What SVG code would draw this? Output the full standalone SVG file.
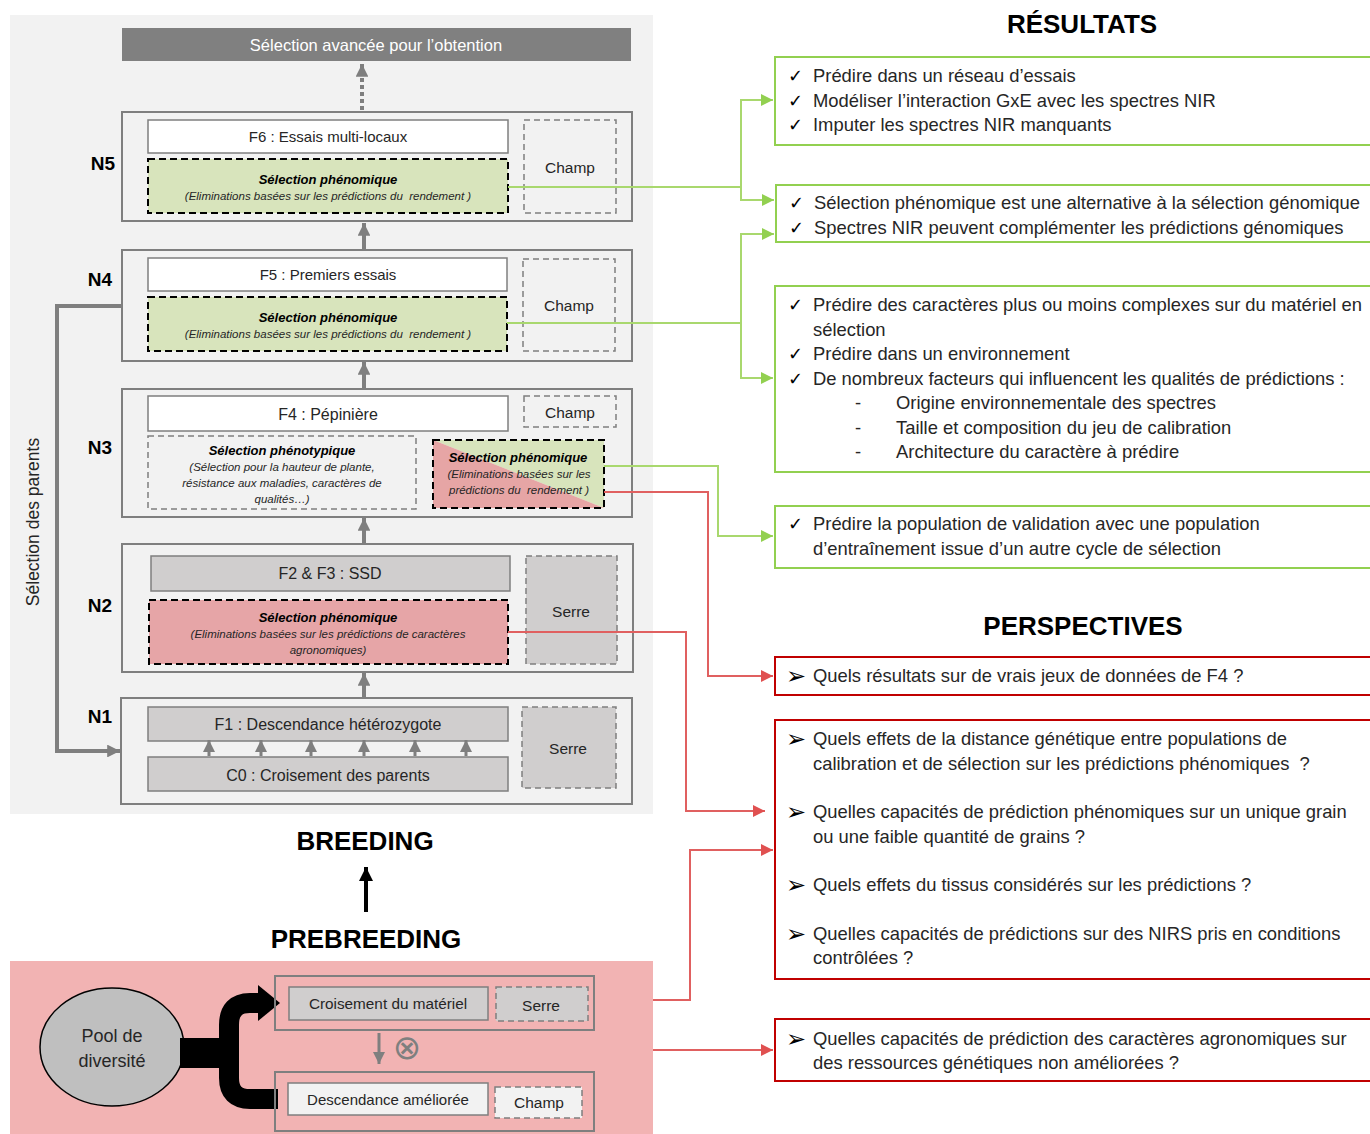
<svg xmlns="http://www.w3.org/2000/svg" width="1370" height="1134" viewBox="0 0 1370 1134">
<style>
text{font-family:"Liberation Sans",Arial,sans-serif;fill:#262626;white-space:pre}
.lvl{fill:#f2f2f2;stroke:#7f7f7f;stroke-width:2}
.wbox{fill:#ffffff;stroke:#7f7f7f;stroke-width:1.5}
.gbox{fill:#d0cece;stroke:#7f7f7f;stroke-width:1.5}
.dash{fill:none;stroke:#7f7f7f;stroke-width:1.5;stroke-dasharray:6,4}
.dashg{fill:#d0cece;stroke:#7f7f7f;stroke-width:1.5;stroke-dasharray:6,4}
.dashw{fill:#f2f2f2;stroke:#7f7f7f;stroke-width:1.5;stroke-dasharray:6,4}
.bdash{fill:none;stroke:#000;stroke-width:2;stroke-dasharray:7,4}
.lbl{font-size:15px;text-anchor:middle}
.env{font-size:15.5px;text-anchor:middle}
.big{font-size:16px;text-anchor:middle}
.st{font-size:13px;font-weight:bold;font-style:italic;text-anchor:middle;fill:#000}
.sm{font-size:11.5px;font-style:italic;text-anchor:middle}
.nl{font-size:19px;font-weight:bold;text-anchor:middle;fill:#000}
.title{font-size:26px;font-weight:bold;text-anchor:middle;fill:#000}
.rt{font-size:18.4px}
.ck{font-family:"DejaVu Sans",sans-serif;font-size:18px;fill:#000}
.ar{font-family:"DejaVu Sans",sans-serif;font-size:24px;fill:#000}
.rgb{fill:#fff;stroke:#92d050;stroke-width:2}
.rrb{fill:#fff;stroke:#c00000;stroke-width:2}
.cg{fill:none;stroke:#a9d86e;stroke-width:2}
.cr{fill:none;stroke:#e06060;stroke-width:2}
.ga{fill:none;stroke:#7f7f7f;stroke-width:4}
</style>
<defs>
<marker id="mg" viewBox="0 0 10 10" refX="10" refY="5" markerWidth="3.2" markerHeight="3.2" orient="auto" markerUnits="strokeWidth"><path d="M0,0 L10,5 L0,10 z" fill="#7f7f7f"/></marker>
<marker id="mgs" viewBox="0 0 10 10" refX="10" refY="5" markerWidth="4" markerHeight="4" orient="auto" markerUnits="strokeWidth"><path d="M0,0 L10,5 L0,10 z" fill="#7f7f7f"/></marker>
<marker id="mgreen" viewBox="0 0 10 10" refX="10" refY="5" markerWidth="13" markerHeight="12" orient="auto" markerUnits="userSpaceOnUse"><path d="M0,0 L10,5 L0,10 z" fill="#92d050"/></marker>
<marker id="mred" viewBox="0 0 10 10" refX="10" refY="5" markerWidth="13" markerHeight="12" orient="auto" markerUnits="userSpaceOnUse"><path d="M0,0 L10,5 L0,10 z" fill="#e05050"/></marker>
<marker id="mblk" viewBox="0 0 10 10" refX="10" refY="5" markerWidth="3.5" markerHeight="3.5" orient="auto" markerUnits="strokeWidth"><path d="M0,0 L10,5 L0,10 z" fill="#000"/></marker>
</defs>

<rect x="10" y="15" width="643" height="799" fill="#f2f2f2"/>
<rect x="10" y="961" width="643" height="173" fill="#f2b3b3"/>

<g id="top-bar">
<rect x="122" y="28" width="509" height="33" fill="#808080"/>
<text x="376" y="51" style="font-size:16.5px;text-anchor:middle;fill:#fff">Sélection avancée pour l’obtention</text>
</g>

<g id="N5">
<rect class="lvl" x="122" y="112" width="510" height="109"/>
<rect class="wbox" x="148" y="120" width="360" height="33"/>
<text x="328" y="142" class="lbl">F6 : Essais multi-locaux</text>
<rect x="148" y="159" width="360" height="54" fill="#d8e4bc"/>
<rect class="bdash" x="148" y="159" width="360" height="54"/>
<text x="328" y="184" class="st">Sélection phénomique</text>
<text x="328" y="200" class="sm">(Eliminations basées sur les prédictions du  rendement )</text>
<rect class="dash" x="524" y="120" width="92" height="93"/>
<text x="570" y="173" class="env">Champ</text>
<text x="103" y="170" class="nl">N5</text>
</g>

<g id="N4">
<rect class="lvl" x="122" y="250" width="510" height="111"/>
<rect class="wbox" x="148" y="258" width="359" height="33"/>
<text x="328" y="280" class="lbl">F5 : Premiers essais</text>
<rect x="148" y="297" width="359" height="54" fill="#d8e4bc"/>
<rect class="bdash" x="148" y="297" width="359" height="54"/>
<text x="328" y="322" class="st">Sélection phénomique</text>
<text x="328" y="338" class="sm">(Eliminations basées sur les prédictions du  rendement )</text>
<rect class="dash" x="523" y="259" width="92" height="92"/>
<text x="569" y="311" class="env">Champ</text>
<text x="100" y="286" class="nl">N4</text>
</g>

<g id="N3">
<rect class="lvl" x="122" y="389" width="510" height="128"/>
<rect class="wbox" x="148" y="396" width="360" height="35"/>
<text x="328" y="420" class="big">F4 : Pépinière</text>
<rect class="dash" x="524" y="396" width="92" height="31"/>
<text x="570" y="418" class="env">Champ</text>
<rect class="dash" x="148" y="436" width="268" height="73"/>
<text x="282" y="455" class="st">Sélection phénotypique</text>
<text x="282" y="471" class="sm">(Sélection pour la hauteur de plante,</text>
<text x="282" y="487" class="sm">résistance aux maladies, caractères de</text>
<text x="282" y="503" class="sm">qualités…)</text>
<polygon points="433,440 604,440 604,508" fill="#d8e4bc"/>
<polygon points="433,440 433,508 604,508" fill="#e6a5a5"/>
<rect class="bdash" x="433" y="440" width="171" height="68"/>
<text x="518" y="462" class="st">Sélection phénomique</text>
<text x="519" y="478" class="sm">(Eliminations basées sur les</text>
<text x="519" y="494" class="sm">prédictions du  rendement )</text>
<text x="100" y="454" class="nl">N3</text>
</g>

<g id="N2">
<rect class="lvl" x="122" y="544" width="511" height="128"/>
<rect class="gbox" x="151" y="556" width="359" height="35"/>
<text x="330" y="579" class="big">F2 &amp; F3 : SSD</text>
<rect x="149" y="600" width="359" height="64" fill="#e6a5a7"/>
<rect class="bdash" x="149" y="600" width="359" height="64"/>
<text x="328" y="622" class="st">Sélection phénomique</text>
<text x="328" y="638" class="sm">(Eliminations basées sur les prédictions de caractères</text>
<text x="328" y="654" class="sm">agronomiques)</text>
<rect class="dashg" x="526" y="556" width="91" height="108"/>
<text x="571" y="617" class="env">Serre</text>
<text x="100" y="612" class="nl">N2</text>
</g>

<g id="N1">
<rect class="lvl" x="121" y="698" width="511" height="106"/>
<rect class="gbox" x="148" y="707" width="360" height="34"/>
<text x="328" y="730" class="big">F1 : Descendance hétérozygote</text>
<rect class="gbox" x="148" y="757" width="360" height="34"/>
<text x="328" y="781" class="big">C0 : Croisement des parents</text>
<rect class="dashg" x="522" y="707" width="94" height="81"/>
<text x="568" y="754" class="env">Serre</text>
<text x="100" y="723" class="nl">N1</text>
</g>

<g id="labels">
<text x="0" y="0" transform="translate(39,522) rotate(-90)" style="font-size:17.5px;text-anchor:middle">Sélection des parents</text>
<text x="365" y="850" class="title">BREEDING</text>
<text x="366" y="948" class="title">PREBREEDING</text>
<text x="1082" y="33" class="title">RÉSULTATS</text>
<text x="1083" y="635" class="title">PERSPECTIVES</text>
</g>

<g id="prebreeding">
<ellipse cx="112" cy="1047" rx="72" ry="59" fill="#bfbfbf" stroke="#000" stroke-width="1.5"/>
<text x="112" y="1042" style="font-size:18px;text-anchor:middle">Pool de</text>
<text x="112" y="1067" style="font-size:18px;text-anchor:middle">diversité</text>
<rect x="180" y="1038" width="56" height="30" fill="#000"/>
<path d="M262,1003 H250 Q229,1003 229,1025 V1078 Q229,1099 250,1099 H278" fill="none" stroke="#000" stroke-width="20"/>
<polygon points="258,985 280,1003 258,1021" fill="#000"/>
<rect x="275" y="976" width="319" height="54" fill="none" stroke="#7f7f7f" stroke-width="2"/>
<rect class="gbox" x="289" y="987" width="199" height="33"/>
<text x="388" y="1009" style="font-size:15.3px;text-anchor:middle">Croisement du matériel</text>
<rect class="dashg" x="496" y="987" width="92" height="34"/>
<text x="541" y="1011" class="env">Serre</text>
<rect x="275" y="1072" width="319" height="59" fill="none" stroke="#7f7f7f" stroke-width="2"/>
<rect x="288" y="1083" width="200" height="32" fill="#f2f2f2" stroke="#7f7f7f" stroke-width="1.5"/>
<text x="388" y="1105" style="font-size:15px;text-anchor:middle">Descendance améliorée</text>
<rect class="dashw" x="495" y="1087" width="87" height="31"/>
<text x="539" y="1108" class="env">Champ</text>
<text x="407" y="1059" style="font-family:'DejaVu Sans',sans-serif;font-size:34px;text-anchor:middle;fill:#7f7f7f">⊗</text>
</g>

<g id="R1">
<rect class="rgb" x="775" y="57" width="600" height="88"/>
<text x="788" y="82" class="ck">✓</text><text x="813" y="82" class="rt">Prédire dans un réseau d’essais</text>
<text x="788" y="107" class="ck">✓</text><text x="813" y="107" class="rt">Modéliser l’interaction GxE avec les spectres NIR</text>
<text x="788" y="131" class="ck">✓</text><text x="813" y="131" class="rt">Imputer les spectres NIR manquants</text>
</g>
<g id="R2">
<rect class="rgb" x="776" y="185" width="600" height="57"/>
<text x="789" y="209" class="ck">✓</text><text x="814" y="209" class="rt">Sélection phénomique est une alternative à la sélection génomique</text>
<text x="789" y="234" class="ck">✓</text><text x="814" y="234" class="rt">Spectres NIR peuvent complémenter les prédictions génomiques</text>
</g>
<g id="R3">
<rect class="rgb" x="775" y="286" width="600" height="186"/>
<text x="788" y="311" class="ck">✓</text><text x="813" y="311" class="rt">Prédire des caractères plus ou moins complexes sur du matériel en</text>
<text x="813" y="336" class="rt">sélection</text>
<text x="788" y="360" class="ck">✓</text><text x="813" y="360" class="rt">Prédire dans un environnement</text>
<text x="788" y="385" class="ck">✓</text><text x="813" y="385" class="rt">De nombreux facteurs qui influencent les qualités de prédictions :</text>
<text x="855" y="409" class="rt">-</text><text x="896" y="409" class="rt">Origine environnementale des spectres</text>
<text x="855" y="434" class="rt">-</text><text x="896" y="434" class="rt">Taille et composition du jeu de calibration</text>
<text x="855" y="458" class="rt">-</text><text x="896" y="458" class="rt">Architecture du caractère à prédire</text>
</g>
<g id="R4">
<rect class="rgb" x="775" y="506" width="600" height="62"/>
<text x="788" y="530" class="ck">✓</text><text x="813" y="530" class="rt">Prédire la population de validation avec une population</text>
<text x="813" y="555" class="rt">d’entraînement issue d’un autre cycle de sélection</text>
</g>
<g id="P1">
<rect class="rrb" x="775" y="657" width="600" height="38"/>
<text x="786" y="684" class="ar">➢</text><text x="813" y="682" class="rt">Quels résultats sur de vrais jeux de données de F4 ?</text>
</g>
<g id="P2">
<rect class="rrb" x="775" y="720" width="600" height="259"/>
<text x="786" y="747" class="ar">➢</text><text x="813" y="745" class="rt">Quels effets de la distance génétique entre populations de</text>
<text x="813" y="770" class="rt">calibration et de sélection sur les prédictions phénomiques  ?</text>
<text x="786" y="820" class="ar">➢</text><text x="813" y="818" class="rt">Quelles capacités de prédiction phénomiques sur un unique grain</text>
<text x="813" y="843" class="rt">ou une faible quantité de grains ?</text>
<text x="786" y="893" class="ar">➢</text><text x="813" y="891" class="rt">Quels effets du tissus considérés sur les prédictions ?</text>
<text x="786" y="942" class="ar">➢</text><text x="813" y="940" class="rt">Quelles capacités de prédictions sur des NIRS pris en conditions</text>
<text x="813" y="964" class="rt">contrôlées ?</text>
</g>
<g id="P3">
<rect class="rrb" x="775" y="1019" width="600" height="62"/>
<text x="786" y="1047" class="ar">➢</text><text x="813" y="1045" class="rt">Quelles capacités de prédiction des caractères agronomiques sur</text>
<text x="813" y="1069" class="rt">des ressources génétiques non améliorées ?</text>
</g>

<g id="connectors">
<line x1="362" y1="110" x2="362" y2="64" stroke="#7f7f7f" stroke-width="4" stroke-dasharray="4,3" marker-end="url(#mg)"/>
<line class="ga" x1="364" y1="249" x2="364" y2="223" marker-end="url(#mg)"/>
<line class="ga" x1="364" y1="388" x2="364" y2="362" marker-end="url(#mg)"/>
<line class="ga" x1="364" y1="543" x2="364" y2="518" marker-end="url(#mg)"/>
<line class="ga" x1="364" y1="697" x2="364" y2="673" marker-end="url(#mg)"/>
<g stroke="#7f7f7f" stroke-width="3">
<line x1="209" y1="756" x2="209" y2="740" marker-end="url(#mgs)"/>
<line x1="261" y1="756" x2="261" y2="740" marker-end="url(#mgs)"/>
<line x1="311" y1="756" x2="311" y2="740" marker-end="url(#mgs)"/>
<line x1="364" y1="756" x2="364" y2="740" marker-end="url(#mgs)"/>
<line x1="415" y1="756" x2="415" y2="740" marker-end="url(#mgs)"/>
<line x1="466" y1="756" x2="466" y2="740" marker-end="url(#mgs)"/>
</g>
<path class="ga" d="M122,306 H57 V751 H120" marker-end="url(#mg)"/>
<line x1="379" y1="1033" x2="379" y2="1064" stroke="#7f7f7f" stroke-width="3" marker-end="url(#mgs)"/>
<line x1="366" y1="912" x2="366" y2="867" stroke="#000" stroke-width="4" marker-end="url(#mblk)"/>
<path class="cg" d="M508,187 H741"/>
<path class="cg" d="M773,100 H741 V200 H773"/>
<line class="cg" x1="750" y1="100" x2="773" y2="100" marker-end="url(#mgreen)"/>
<line class="cg" x1="750" y1="200" x2="774" y2="200" marker-end="url(#mgreen)"/>
<path class="cg" d="M507,323 H741"/>
<path class="cg" d="M773,234 H741 V378 H773"/>
<line class="cg" x1="750" y1="234" x2="774" y2="234" marker-end="url(#mgreen)"/>
<line class="cg" x1="750" y1="378" x2="773" y2="378" marker-end="url(#mgreen)"/>
<path class="cg" d="M604,466 H718 V536 H773" marker-end="url(#mgreen)"/>
<path class="cr" d="M604,492 H708 V676 H773" marker-end="url(#mred)"/>
<path class="cr" d="M508,632 H686 V811 H765" marker-end="url(#mred)"/>
<path class="cr" d="M653,1000 H690 V850 H773" marker-end="url(#mred)"/>
<path class="cr" d="M653,1050 H773" marker-end="url(#mred)"/>
</g>
</svg>
